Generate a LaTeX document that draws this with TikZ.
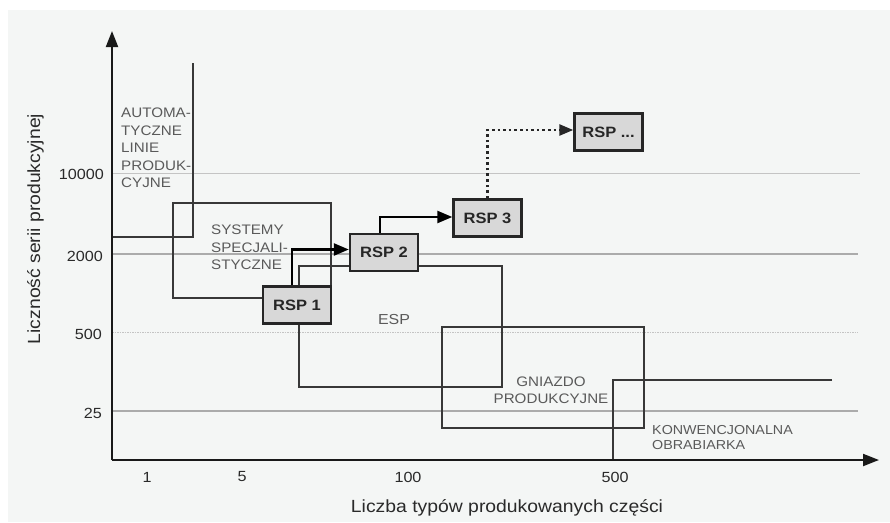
\documentclass[tikz,border=0pt]{standalone}
\usepackage{fontspec}
\setmainfont{Liberation Sans}[FakeStretch=1.1]
\usetikzlibrary{arrows.meta}
\definecolor{bgc}{HTML}{F4F6F5}
\definecolor{txtg}{HTML}{5A5A5A}
\definecolor{txtd}{HTML}{2A2A2A}
\definecolor{rspfill}{HTML}{D8D8D8}
\definecolor{gridc}{HTML}{ABABAB}
\definecolor{gridl}{HTML}{C4C4C4}
\definecolor{boxc}{HTML}{383838}
\begin{document}
\begin{tikzpicture}[x=1pt,y=-1pt,
  rspbox/.style={draw=black!85, line width=2.4pt, fill=rspfill, minimum width=68pt, minimum height=37pt, inner sep=0pt, font=\fontsize{15}{18}\selectfont\bfseries, text=black!85},
  area/.style={draw=boxc, line width=1.8pt},
  flow/.style={draw=black, line width=2.4pt, -{Triangle[length=15pt,width=12pt]}},
  dotflow/.style={draw=black!85, line width=2.6pt, dash pattern=on 2.6pt off 3pt, -{Triangle[length=14pt,width=11pt]}},
  axisline/.style={draw=black!90, line width=2pt, -{Triangle[length=16pt,width=12pt]}},
  gridthin/.style={draw=gridl, line width=1pt},
  gridthick/.style={draw=gridc, line width=2pt},
  griddot/.style={draw=gridl, line width=1pt, dash pattern=on 1.5pt off 1pt},
  gridmid/.style={draw=gridc, line width=1.4pt},
  ticklab/.style={inner sep=0pt, text=txtd, font=\fontsize{14.7}{17}\selectfont},
  arealab/.style={inner sep=0pt, text=txtg, font=\fontsize{13.8}{17.4}\selectfont},
  title/.style={inner sep=0pt, text=txtd, font=\fontsize{17.6}{20}\selectfont}
]
\useasboundingbox (0,0) rectangle (890,522);
\fill[bgc] (8,10) rectangle (890,522);

% axes coordinates
\coordinate (O) at (112,460);
\coordinate (ytip) at (112,31);
\coordinate (xtip) at (879,460);

% grid lines
\coordinate (g1a) at (112,173); \coordinate (g1b) at (860,173);
\coordinate (g2a) at (112,254); \coordinate (g2b) at (858,254);
\coordinate (g3a) at (112,332); \coordinate (g3b) at (858,332);
\coordinate (g4a) at (112,411); \coordinate (g4b) at (858,411);
\draw[gridthin] (g1a) -- (g1b);
\draw[gridthick] (g2a) -- (g2b);
\draw[griddot] (g3a) -- (g3b);
\draw[gridmid] (g4a) -- (g4b);

% area outlines
\coordinate (a1) at (112,237); \coordinate (a2) at (193,237); \coordinate (a3) at (193,63);
\draw[area] (a1) -- (a2) -- (a3);
\coordinate (s1) at (173,203); \coordinate (s2) at (331,298);
\draw[area] (s1) rectangle (s2);
\coordinate (e1) at (299,266); \coordinate (e2) at (502,387);
\draw[area] (e1) rectangle (e2);
\coordinate (n1) at (442,327); \coordinate (n2) at (644,428);
\draw[area] (n1) rectangle (n2);
\coordinate (k1) at (832,380); \coordinate (k2) at (613,380); \coordinate (k3) at (613,460); \coordinate (k4) at (835,460);
\draw[area] (k1) -- (k2) -- (k3) -- (k4);

% axes
\draw[axisline] (O) -- (ytip);
\draw[axisline] (O) -- (xtip);

% RSP nodes
\node[rspbox] (rsp1) at (297,305) {RSP 1};
\node[rspbox] (rsp2) at (384,252.5) {RSP 2};
\node[rspbox] (rsp3) at (487.5,218) {RSP 3};
\node[rspbox] (rspd) at (608.5,132) {RSP ...};

% flows
\draw[flow] ([xshift=-5pt]rsp1.north) |- ([yshift=3pt]rsp2.west);
\draw[flow] ([xshift=-4pt]rsp2.north) |- ([yshift=1pt]rsp3.west);
\draw[dotflow] (rsp3.north) |- ([yshift=2pt]rspd.west);

% area labels
\node[arealab, anchor=north west, align=left] (lauto) at (121,108) {AUTOMA-\\TYCZNE\\LINIE\\PRODUK-\\CYJNE};
\node[arealab, anchor=north west, align=left] (lsys) at (211,225) {SYSTEMY\\SPECJALI-\\STYCZNE};
\node[arealab, font=\fontsize{14.5}{17}\selectfont] (lesp) at (394,319.5) {ESP};
\node[arealab, anchor=north, align=center, font=\fontsize{13.8}{17}\selectfont] (lgn) at (551,377) {GNIAZDO\\PRODUKCYJNE};
\node[arealab, anchor=north west, align=left, font=\fontsize{13}{15}\selectfont] (lkon) at (652,425) {KONWENCJONALNA\\OBRABIARKA};

% tick labels
\node[ticklab, anchor=east] (t10000) at (104,174) {10000};
\node[ticklab, anchor=east] (t2000) at (103,256) {2000};
\node[ticklab, anchor=east] (t500) at (102,334) {500};
\node[ticklab, anchor=east] (t25) at (102,413) {25};
\node[ticklab] (x1) at (147,477) {1};
\node[ticklab] (x5) at (242,477) {5};
\node[ticklab] (x100) at (408,477) {100};
\node[ticklab] (x500) at (615,477) {500};

% titles
\node[title, anchor=base] (xtitle) at (507,512) {Liczba typów produkowanych części};
\node[title, anchor=base, rotate=90] (ytitle) at (40,229) {Liczność serii produkcyjnej};
\end{tikzpicture}
\end{document}
